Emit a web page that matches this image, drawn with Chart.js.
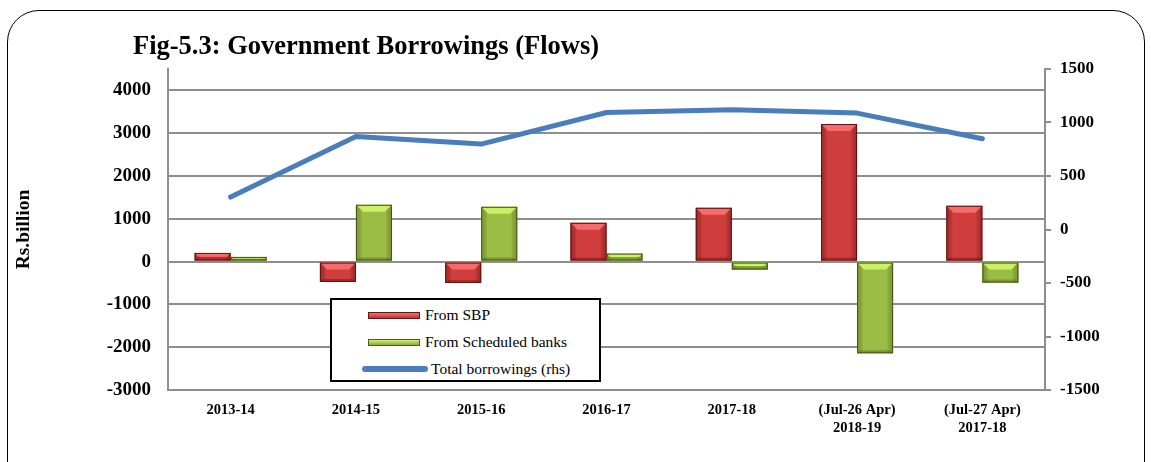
<!DOCTYPE html>
<html>
<head>
<meta charset="utf-8">
<script src="https://cdn.jsdelivr.net/npm/chart.js@4/dist/chart.umd.min.js"></script>
<style>
  html, body { margin: 0; padding: 0; background: #fff; overflow: hidden; }
  #wrap { position: relative; width: 1151px; height: 462px; }
  #frame { position: absolute; left: 7px; top: 10px; width: 1138px; height: 500px;
           border: 1.5px solid #000; border-radius: 32px; box-sizing: border-box; }
  #title { position: absolute; left: 133px; top: 30px; font: bold 26.5px "Liberation Serif", serif; color: #000; white-space: nowrap; }
  #legend { position: absolute; left: 330px; top: 298px; width: 271px; height: 84px; border: 2px solid #000;
            background: #fff; box-sizing: border-box; font: 15.5px "Liberation Serif", serif; color: #000; }
  .li { position: absolute; left: 36px; height: 20px; display: flex; align-items: center; white-space: nowrap; }
  .sw { width: 52px; height: 7px; margin-right: 5px; box-sizing: border-box; }
  canvas { position: absolute; left: 0; top: 0; }
</style>
</head>
<body>
<div id="wrap">
  <div id="frame"></div>
  <canvas id="c" width="1151" height="462"></canvas>
  <div id="title">Fig-5.3: Government Borrowings (Flows)</div>
  <div id="legend">
    <div class="li" style="top:5px"><div class="sw" style="background:linear-gradient(#ee7070,#c03434);border:1px solid #6a1515"></div>From SBP</div>
    <div class="li" style="top:32px"><div class="sw" style="background:linear-gradient(#d0f070,#8aaa38);border:1px solid #4a6015"></div>From Scheduled banks</div>
    <div class="li" style="top:59px"><div class="sw" style="background:#4a7ebb;height:6px;border-radius:3px;width:66px;margin-left:-6px;margin-right:3px"></div>Total borrowings (rhs)</div>
  </div>
</div>
<script>
const categories = [["2013-14"], ["2014-15"], ["2015-16"], ["2016-17"], ["2017-18"], ["(Jul-26 Apr)", "2018-19"], ["(Jul-27 Apr)", "2017-18"]];
const fromSBP = [203, -475, -500, 905, 1256, 3214, 1303];
const fromScheduledBanks = [110, 1327, 1280, 187, -187, -2143, -491];
const totalBorrowings = [303, 869, 798, 1093, 1119, 1088, 848];
const leftTicks = [-3000, -2000, -1000, 0, 1000, 2000, 3000, 4000];
const rightTicks = [-1500, -1000, -500, 0, 500, 1000, 1500];

const bevelPlugin = {
  id: 'bevel',
  afterDatasetDraw(chart, args) {
    const ds = chart.data.datasets[args.index];
    if (ds.type !== 'bar') return;
    const meta = args.meta;
    const ctx = chart.ctx;
    const pal = ds.bevel;
    meta.data.forEach(el => {
      const p = el.getProps(['x', 'y', 'base', 'width'], true);
      const l = p.x - p.width / 2, r = p.x + p.width / 2;
      const t = Math.min(p.y, p.base), b = Math.max(p.y, p.base);
      const h = b - t;
      const d = Math.min(7, h / 2, p.width / 2);
      ctx.save();
      const g = ctx.createLinearGradient(l, 0, r, 0);
      g.addColorStop(0, pal.side);
      g.addColorStop(0.18, 'rgba(0,0,0,0)');
      g.addColorStop(0.82, 'rgba(0,0,0,0)');
      g.addColorStop(1, pal.side);
      ctx.fillStyle = g;
      ctx.fillRect(l, t, p.width, h);
      ctx.fillStyle = pal.top;
      ctx.beginPath(); ctx.moveTo(l, t); ctx.lineTo(r, t); ctx.lineTo(r - d, t + d); ctx.lineTo(l + d, t + d); ctx.closePath(); ctx.fill();
      const e = Math.min(d, 3);
      ctx.fillStyle = pal.bottom;
      ctx.beginPath(); ctx.moveTo(l, b); ctx.lineTo(r, b); ctx.lineTo(r - e, b - e); ctx.lineTo(l + e, b - e); ctx.closePath(); ctx.fill();
      ctx.strokeStyle = pal.border; ctx.lineWidth = 1;
      ctx.strokeRect(l + 0.5, t + 0.5, p.width - 1, h - 1);
      ctx.restore();
    });
  }
};

new Chart(document.getElementById('c'), {
  data: {
    labels: categories,
    datasets: [
      { type: 'line', label: 'Total borrowings (rhs)', data: totalBorrowings, yAxisID: 'yR',
        borderColor: '#4a7ebb', borderWidth: 5, pointRadius: 0, tension: 0, order: 0,
        borderCapStyle: 'round', borderJoinStyle: 'round' },
      { type: 'bar', label: 'From SBP', data: fromSBP, yAxisID: 'y', order: 1,
        backgroundColor: '#cf3d3d', borderWidth: 0,
        barPercentage: 1, categoryPercentage: 0.575,
        bevel: { top: 'rgba(255,120,120,0.8)', side: 'rgba(120,20,20,0.45)', bottom: 'rgba(110,15,15,0.4)', border: '#5e1212' } },
      { type: 'bar', label: 'From Scheduled banks', data: fromScheduledBanks, yAxisID: 'y', order: 1,
        backgroundColor: '#9cbd45', borderWidth: 0,
        barPercentage: 1, categoryPercentage: 0.575,
        bevel: { top: 'rgba(210,245,105,0.9)', side: 'rgba(80,110,20,0.4)', bottom: 'rgba(60,85,15,0.35)', border: '#3f5412' } }
    ]
  },
  options: {
    responsive: false,
    animation: false,
    layout: { padding: { top: 69, left: 0, right: 0, bottom: 0 } },
    plugins: { legend: { display: false }, tooltip: { enabled: false } },
    scales: {
      x: {
        grid: { display: false, drawTicks: false },
        border: { display: false },
        ticks: { font: { family: "Liberation Serif", size: 14.5, weight: "bold" }, color: '#000', padding: 12, maxRotation: 0, autoSkip: false },
        afterFit(s) { s.height = 72; }
      },
      y: {
        position: 'left', min: -3000, max: 4500,
        afterBuildTicks(s) { s.ticks = leftTicks.map(v => ({ value: v })); },
        grid: { color: '#8e8e8e', lineWidth: 2, drawTicks: false },
        border: { display: true, color: '#8e8e8e', width: 2 },
        ticks: { font: { family: "Liberation Serif", size: 19, weight: "bold" }, color: '#000', padding: 17, callback: v => String(v) },
        title: { display: true, text: 'Rs.billion', font: { family: "Liberation Serif", size: 19.5, weight: "bold" }, color: '#000', padding: { top: 12, bottom: 0 } },
        afterFit(s) { s.width = 168; }
      },
      yR: {
        position: 'right', min: -1500, max: 1500,
        afterBuildTicks(s) { s.ticks = rightTicks.map(v => ({ value: v })); },
        grid: { drawOnChartArea: false, color: '#8e8e8e', lineWidth: 2, tickLength: 6 },
        border: { display: true, color: '#8e8e8e', width: 2 },
        ticks: { font: { family: "Liberation Serif", size: 17, weight: "bold" }, color: '#000', padding: 9, callback: v => String(v) },
        afterFit(s) { s.width = 106; }
      }
    }
  },
  plugins: [bevelPlugin]
});
</script>
</body>
</html>
